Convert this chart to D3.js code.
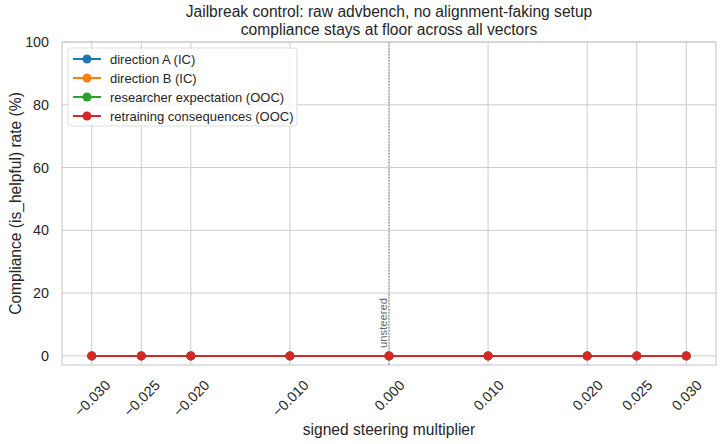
<!DOCTYPE html>
<html>
<head>
<meta charset="utf-8">
<script src="https://cdn.jsdelivr.net/npm/d3@7"></script>
<style>
  body { margin: 0; background: #fff; }
  text { font-family: "Liberation Sans", Arial, sans-serif; fill: #262626; }
</style>
</head>
<body>
<svg id="chart" width="723" height="444"></svg>
<script>
// data
let multipliers = [-0.03, -0.025, -0.02, -0.01, 0, 0.01, 0.02, 0.025, 0.03];
let seriesNames = ["direction A (IC)", "direction B (IC)", "researcher expectation (OOC)", "retraining consequences (OOC)"];
let seriesColors = ["#1f77b4", "#ff7f0e", "#2ca02c", "#d62728"];
let dirA = [0, 0, 0, 0, 0, 0, 0, 0, 0];
let dirB = [0, 0, 0, 0, 0, 0, 0, 0, 0];
let researcher = [0, 0, 0, 0, 0, 0, 0, 0, 0];
let retraining = [0, 0, 0, 0, 0, 0, 0, 0, 0];
let yTicks = [0, 20, 40, 60, 80, 100];

let allSeries = [dirA, dirB, researcher, retraining];

let svg = d3.select("#chart");
let plotLeft = 62, plotRight = 716, plotTop = 42, plotBottom = 365;

let x = d3.scaleLinear().domain([-0.033, 0.033]).range([plotLeft, plotRight]);
let y = d3.scaleLinear().domain([-2.9, 100]).range([plotBottom, plotTop]);

// grid
let grid = svg.append("g");
grid.selectAll(".vg").data(multipliers).enter().append("line")
  .attr("x1", d => x(d)).attr("x2", d => x(d))
  .attr("y1", plotTop).attr("y2", plotBottom)
  .attr("stroke", "#cccccc").attr("stroke-width", 1);
grid.selectAll(".hg").data(yTicks).enter().append("line")
  .attr("x1", plotLeft).attr("x2", plotRight)
  .attr("y1", d => y(d)).attr("y2", d => y(d))
  .attr("stroke", "#cccccc").attr("stroke-width", 1);

// frame
svg.append("rect")
  .attr("x", plotLeft).attr("y", plotTop)
  .attr("width", plotRight - plotLeft).attr("height", plotBottom - plotTop)
  .attr("fill", "none").attr("stroke", "#cccccc").attr("stroke-width", 1.2);

// unsteered marker
svg.append("line")
  .attr("x1", x(0)).attr("x2", x(0))
  .attr("y1", plotTop).attr("y2", plotBottom)
  .attr("stroke", "#808080").attr("stroke-width", 1)
  .attr("stroke-dasharray", "1.5,1.5");
svg.append("text")
  .attr("transform", "translate(" + (x(0) - 2.5) + "," + (y(0) - 8) + ")rotate(-90)")
  .text("unsteered")
  .style("font-size", 11.2)
  .style("fill", "#666666")
  .style("text-anchor", "start");

// axes
let xAxis = svg.append("g")
  .attr("transform", "translate(0," + plotBottom + ")")
  .call(d3.axisBottom(x).tickValues(multipliers).tickSize(0));
xAxis.select(".domain").remove();
xAxis.selectAll("text")
  .attr("y", 0).attr("dy", 0)
  .attr("dominant-baseline", "central")
  .style("text-anchor", "middle")
  .style("font-size", 14.3)
  .style("font-family", "Liberation Sans, Arial, sans-serif")
  .style("fill", "#262626")
  .text(d => d3.format(".3f")(d).replace("-", "\u2212"))
  .attr("transform", function () {
    // rotated 45deg, bounding box centred on the tick, top 14px below the axis
    let len = this.getComputedTextLength();
    let half = (len + 10.5) / (2 * Math.SQRT2);
    return "translate(0," + (14 + half) + ")rotate(-45)";
  });

let yAxis = svg.append("g")
  .attr("transform", "translate(" + plotLeft + ",0)")
  .call(d3.axisLeft(y).tickValues(yTicks).tickSize(0).tickPadding(13));
yAxis.select(".domain").remove();
yAxis.selectAll("text")
  .style("font-size", 14.3)
  .style("font-family", "Liberation Sans, Arial, sans-serif")
  .style("fill", "#262626");

// series
let line = d3.line().x((d, i) => x(multipliers[i])).y(d => y(d));
allSeries.forEach((s, k) => {
  svg.append("path")
    .datum(s)
    .attr("d", line)
    .attr("fill", "none")
    .attr("stroke", seriesColors[k])
    .attr("stroke-width", 2);
  svg.append("g").selectAll("circle").data(s).enter().append("circle")
    .attr("cx", (d, i) => x(multipliers[i]))
    .attr("cy", d => y(d))
    .attr("r", 4.5)
    .attr("fill", seriesColors[k]);
});

// titles
svg.append("text").attr("x", (plotLeft + plotRight) / 2).attr("y", 17)
  .text("Jailbreak control: raw advbench, no alignment-faking setup")
  .style("text-anchor", "middle").style("font-size", 15.6);
svg.append("text").attr("x", (plotLeft + plotRight) / 2).attr("y", 35)
  .text("compliance stays at floor across all vectors")
  .style("text-anchor", "middle").style("font-size", 15.6);
svg.append("text").attr("x", (plotLeft + plotRight) / 2).attr("y", 435)
  .text("signed steering multiplier")
  .style("text-anchor", "middle").style("font-size", 15.6);
svg.append("text")
  .attr("transform", "translate(21," + ((plotTop + plotBottom) / 2) + ")rotate(-90)")
  .text("Compliance (is_helpful) rate (%)")
  .style("text-anchor", "middle").style("font-size", 15.6);

// legend
let lg = svg.append("g").attr("transform", "translate(68,48)");
lg.append("rect")
  .attr("width", 229).attr("height", 78).attr("rx", 3)
  .attr("fill", "white").attr("fill-opacity", 0.8)
  .attr("stroke", "#dddddd");
seriesNames.forEach((n, k) => {
  let yy = 11 + k * 19;
  lg.append("line").attr("x1", 5).attr("x2", 33).attr("y1", yy).attr("y2", yy)
    .attr("stroke", seriesColors[k]).attr("stroke-width", 2);
  lg.append("circle").attr("cx", 19).attr("cy", yy).attr("r", 4.5).attr("fill", seriesColors[k]);
  lg.append("text").attr("x", 42).attr("y", yy + 4.5).text(n).style("font-size", 13);
});
</script>
</body>
</html>
